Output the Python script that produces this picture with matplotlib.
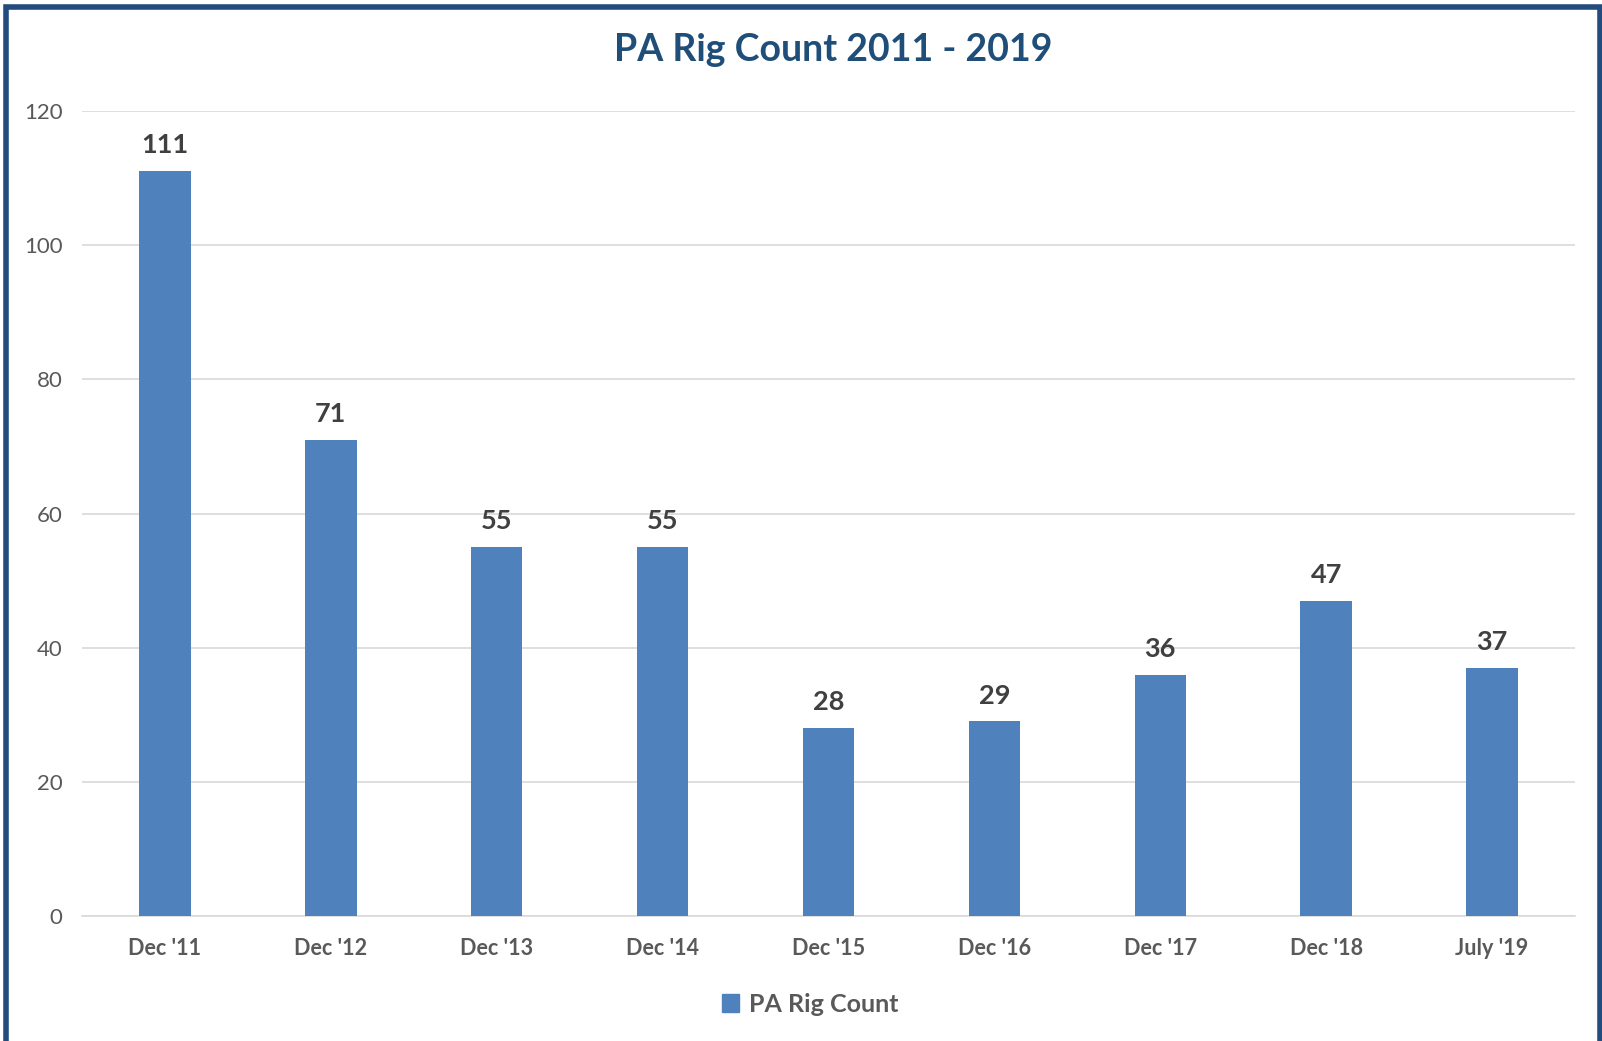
import matplotlib
matplotlib.use("Agg")
import matplotlib.pyplot as plt
from matplotlib.patches import Rectangle, Patch

categories = ["Dec '11", "Dec '12", "Dec '13", "Dec '14", "Dec '15", "Dec '16", "Dec '17", "Dec '18", "July '19"]
rig_count = [111, 71, 55, 55, 28, 29, 36, 47, 37]
yticks = [0, 20, 40, 60, 80, 100, 120]

plt.rcParams['font.family'] = ['Lato', 'DejaVu Sans']

W, H = 1602, 1041
fig = plt.figure(figsize=(W / 100, H / 100), dpi=100)
fig.patch.set_facecolor('white')

# plot area in pixel coordinates
left, right = 82, 1575
top, bottom = 111, 916
ax = fig.add_axes([left / W, 1 - bottom / H, (right - left) / W, (bottom - top) / H])

bar_color = '#4F81BD'
x = list(range(len(categories)))
bars = ax.bar(x, rig_count, width=0.31, color=bar_color, zorder=3)
for xi, v in zip(x, rig_count):
    ax.annotate(str(v), (xi, v), xytext=(0, 10), textcoords='offset points',
                ha='center', va='bottom', fontsize=19.5, fontweight='bold', color='#404040')

ax.set_xlim(-0.5, len(categories) - 0.5)
ax.set_ylim(0, 120)
ax.set_yticks(yticks)
ax.set_xticks(x)
ax.set_xticklabels(categories, fontsize=15.5, fontweight='bold', color='#595959')
ax.tick_params(axis='y', labelsize=16, labelcolor='#595959', length=0, pad=14)
ax.tick_params(axis='x', length=0, pad=16)
ax.grid(axis='y', color='#D9D9D9', linewidth=1.2, zorder=0)
for s in ['top', 'right', 'left']:
    ax.spines[s].set_visible(False)
ax.spines['bottom'].set_color('#D9D9D9')
ax.spines['bottom'].set_linewidth(1.2)

fig.text(833 / W, 1 - 50 / H, 'PA Rig Count 2011 - 2019', ha='center', va='center',
         fontsize=27, fontweight='bold', color='#1F4E79')

leg = fig.legend(handles=[Patch(color=bar_color, label='PA Rig Count')],
                 loc='center', bbox_to_anchor=(810 / W, 1 - 1004 / H), frameon=False,
                 handlelength=0.7, handleheight=0.7, handletextpad=0.4,
                 prop={'size': 18, 'weight': 'bold'})
for t in leg.get_texts():
    t.set_color('#595959')

# frame border
fig.patches.append(Rectangle((6 / W, -0.05), (W - 8) / W, 1.05 - 6.5 / H, transform=fig.transFigure,
                             fill=False, edgecolor='#234B7E', linewidth=4, zorder=10))

fig.savefig('out.png', dpi=100)
